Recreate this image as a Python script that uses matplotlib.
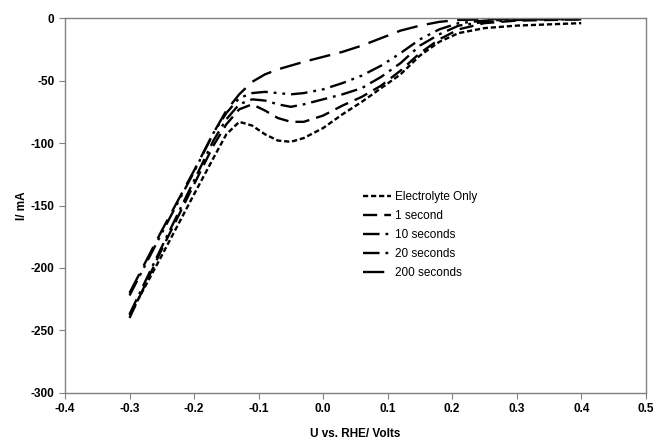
import numpy as np
import matplotlib
matplotlib.use('Agg')
import matplotlib.pyplot as plt

plt.rcParams['font.family'] = ['Liberation Sans', 'DejaVu Sans']
plt.rcParams['axes.unicode_minus'] = False

# Potential (V vs RHE) and currents (mA)
u = [-0.30, -0.25, -0.20, -0.17, -0.15, -0.13, -0.11, -0.09, -0.07, -0.05, -0.03,
     0.00, 0.03, 0.06, 0.09, 0.12, 0.15, 0.18, 0.21, 0.25, 0.30, 0.35, 0.40]

electrolyte = [-238, -190, -141, -112, -93, -83, -86, -93, -98, -99, -96,
               -88, -77, -67, -56, -45, -30, -19, -12, -8, -6, -5, -4]
sec_1 = [-240, -185, -133, -102, -85, -73, -69, -74, -80, -83, -83,
         -78, -70, -63, -54, -42, -28, -17, -9, -4, -2, -1.5, -1]
sec_10 = [-237, -183, -130, -98, -81, -69, -65, -66, -69, -71, -69,
          -65, -61, -56, -47, -36, -22, -13, -6, -3, -1.5, -1, -1]
sec_20 = [-222, -172, -123, -92, -76, -64, -60, -59, -60, -61, -60,
          -57, -52, -46, -38, -28, -17, -9, -4, -2, -1, -1, -0.5]
sec_200 = [-220, -170, -122, -92, -74, -61, -51, -45, -41, -38, -35,
           -31, -27, -22, -16, -10, -6, -3, -1.5, -1, -0.5, -0.5, 0]

labels = ['Electrolyte Only', '1 second', '10 seconds', '20 seconds', '200 seconds']
series = [electrolyte, sec_1, sec_10, sec_20, sec_200]
dashes = [(2.2, 1.2), (6, 3), (7, 2.5, 1.2, 2.5), (7, 2.5, 1.2, 2.5, 1.2, 2.5), (9, 4)]

fig = plt.figure(figsize=(6.54, 4.42), dpi=100)
ax = fig.add_axes([0.0994, 0.111, 0.888, 0.848])

for y, lab, d in zip(series, labels, dashes):
    ax.plot(u, y, color='black', lw=1.7, dashes=d, label=lab)

ax.set_xlim(-0.4, 0.5)
ax.set_ylim(-300, 0)
ax.set_xticks(np.arange(-0.4, 0.51, 0.1))
ax.set_yticks(np.arange(-300, 1, 50))
ax.xaxis.set_major_formatter(
    matplotlib.ticker.FuncFormatter(lambda v, p: '%.1f' % (0.0 if abs(v) < 1e-9 else v)))

for s in ax.spines.values():
    s.set_color('#808080')
    s.set_linewidth(1.0)
ax.tick_params(direction='out', length=4, color='#808080', labelsize=8.5)
for t in ax.get_xticklabels() + ax.get_yticklabels():
    t.set_fontweight('bold')

ax.set_xlabel('U vs. RHE/ Volts', fontsize=8.5, fontweight='bold', labelpad=9)
ax.set_ylabel('I/ mA', fontsize=8.5, fontweight='bold', labelpad=2)

ax.legend(loc='upper left', bbox_to_anchor=(0.495, 0.568), frameon=False,
          fontsize=8.5, handlelength=2.4, handletextpad=0.3, labelspacing=0.6)

fig.savefig('out.png', dpi=100)
